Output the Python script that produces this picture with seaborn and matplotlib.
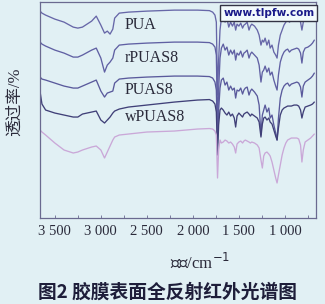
import numpy as np
import pandas as pd
import matplotlib
matplotlib.use("Agg")
import matplotlib.pyplot as plt
import seaborn as sns
from matplotlib.ticker import MultipleLocator, FixedLocator

# ---------------- data ----------------
wavenumber = [3660, 3640, 3600, 3500, 3400, 3300, 3250, 3200, 3100, 3050, 3000,
              2960, 2930, 2900, 2870, 2850, 2800, 2700, 2500, 2200, 1950,
              1820, 1785, 1760, 1745, 1732, 1720, 1705, 1690, 1670, 1650,
              1630, 1610, 1590, 1570, 1550, 1535, 1520, 1500, 1480, 1460,
              1445, 1430, 1410, 1390, 1375, 1360, 1330, 1300, 1280, 1260,
              1245, 1230, 1215, 1195, 1175, 1160, 1140, 1120, 1100, 1085,
              1070, 1050, 1030, 1010, 990, 970, 950, 930, 900, 870,
              850, 830, 815, 800, 780, 750, 720, 700, 680]

pua = [209, 207, 205, 201, 198, 193, 192, 193, 199, 204, 195,
       187, 189, 186, 191, 202, 207, 208, 209, 210, 210,
       209.5, 208, 205, 198, 125, 160, 190, 202, 205, 198,
       202, 193, 198, 194, 198, 190, 196, 194, 197, 192,
       195, 196, 198, 190, 194, 196, 194, 190, 185, 175,
       180, 178, 182, 175, 180, 172, 175, 168, 165, 162,
       175, 185, 190, 195, 198, 200, 198, 200, 201, 202,
       201, 198, 190, 198, 201, 202, 204, 206, 208]

rpuas8 = [178, 176, 174, 170, 167, 163, 163, 165, 170, 172, 162,
          148, 155, 158, 162, 170, 175, 176, 177, 178, 178,
          177.5, 176, 173, 165, 95, 130, 162, 172, 176, 170,
          173, 165, 170, 166, 170, 160, 167, 165, 169, 163,
          167, 168, 170, 162, 166, 168, 165, 162, 155, 138,
          148, 150, 154, 148, 152, 145, 148, 140, 134, 130,
          145, 158, 164, 168, 170, 171, 168, 170, 171, 172,
          171, 167, 157, 168, 172, 173, 175, 177, 180]

puas8 = [143, 141, 140, 137, 134, 132, 132, 134, 138, 140, 129,
         123, 127, 128, 129, 137, 141, 142, 143, 144, 144,
         143.5, 142, 138, 130, 80, 110, 132, 140, 142, 135,
         138, 130, 134, 130, 132, 122, 130, 129, 132, 126,
         130, 132, 133, 125, 129, 131, 128, 124, 115, 85,
         105, 110, 115, 108, 112, 102, 105, 95, 87, 80,
         102, 122, 130, 134, 136, 137, 134, 136, 137, 138,
         137, 133, 123, 134, 138, 140, 142, 144, 147]

wpuas8 = [128, 116, 110, 107, 105, 103, 103, 106, 108, 109, 100,
          97, 100, 103, 107, 109, 111, 113, 115, 118, 120,
          120.5, 119, 116, 108, 65, 95, 110, 112, 110, 107,
          105, 108, 104, 106, 102, 93, 104, 107, 105, 103,
          106, 107, 108, 106, 104, 106, 104, 102, 98, 83,
          96, 102, 103, 100, 102, 98, 96, 90, 84, 80,
          92, 105, 110, 112, 113, 114, 114, 114, 115, 115,
          114, 110, 102, 108, 113, 114, 115, 116, 118]

fifth = [90, 88, 85, 77, 70, 67, 68, 70, 73, 74, 70,
         62, 68, 74, 80, 83, 85, 86, 88, 89, 91,
         91.5, 91, 89, 85, 42, 70, 80, 77, 78, 80,
         79, 77, 78, 76, 73, 67, 76, 78, 79, 77,
         79, 80, 79, 78, 77, 78, 77, 75, 72, 60,
         52, 64, 67, 68, 66, 64, 58, 50, 42, 37,
         45, 55, 65, 72, 77, 80, 81, 82, 82, 82,
         81, 75, 58, 70, 78, 80, 82, 84, 86]

series_names = ["PUA", "rPUAS8", "PUAS8", "wPUAS8", ""]
series_values = [pua, rpuas8, puas8, wpuas8, fifth]
label_pos_y = [195, 162, 130, 103]
label_pos_x = 2740

xticks = [3500, 3000, 2500, 2000, 1500, 1000]
xtick_labels = ["3 500", "3 000", "2 500", "2 000", "1 500", "1 000"]

# ---------------- style ----------------
bg = "#e1f0f4"
sns.set_style("ticks")
plt.rcParams['font.family'] = ['Liberation Serif', 'Noto Sans CJK SC', 'DejaVu Sans']

fig = plt.figure(figsize=(3.25, 3.04), dpi=100, facecolor=bg)
ax = fig.add_axes([0.124, 0.283, 0.848, 0.710])
ax.set_facecolor(bg)

colors = ["#6767a8", "#6060a3", "#5a5a9c", "#404078", "#caa8d8"]
for name, vals, c in zip(series_names, series_values, colors):
    df = pd.DataFrame({"w": wavenumber, "T": vals})
    sns.lineplot(data=df, x="w", y="T", ax=ax, color=c, lw=0.95,
                 sort=False, estimator=None)

for name, ly in zip(series_names[:4], label_pos_y):
    ax.text(label_pos_x, ly, name, fontsize=11.5, color="#2a2a3a",
            family=['Liberation Serif'], va="center", ha="left")

ax.set_xlim(3658, 663)
ax.set_ylim(2, 218)
ax.set_xlabel("")
ax.set_ylabel("")
ax.xaxis.set_major_locator(FixedLocator(xticks))
ax.set_xticklabels(xtick_labels, fontsize=10.5, color="#2a2a3a",
                   family=['Liberation Serif'])
ax.xaxis.set_minor_locator(MultipleLocator(250))
ax.tick_params(axis="x", which="both", direction="in", length=2.5,
               width=0.6, color="#6a6a90", pad=5)
ax.set_yticks([])
for s in ax.spines.values():
    s.set_color("#6a6a90")
    s.set_linewidth(0.9)

fig.text(0.615, 0.138, "波数/cm$^{-1}$", fontsize=12, color="#2a2a3a",
         ha="center", va="center", family=['Liberation Serif', 'Noto Sans CJK SC'])
fig.text(0.045, 0.665, "透过率/%", fontsize=12, color="#2a2a3a", rotation=90,
         ha="center", va="center", family=['Liberation Serif', 'Noto Sans CJK SC'])
fig.text(0.515, 0.04, "图2 胶膜表面全反射红外光谱图", fontsize=13.5,
         color="#1e1e3a", ha="center", va="center", fontweight="bold",
         family=['Noto Sans CJK SC', 'DejaVu Sans'])

fig.text(0.967, 0.958, "www.tlpfw.com", fontsize=7.6, fontweight="bold",
         color="#1a1a8a", ha="right", va="center", family=['DejaVu Sans'],
         bbox=dict(boxstyle="square,pad=0.3", facecolor="#f2fafc",
                   edgecolor="#333344", linewidth=1.0))

fig.savefig("out.png", dpi=100, facecolor=bg)
